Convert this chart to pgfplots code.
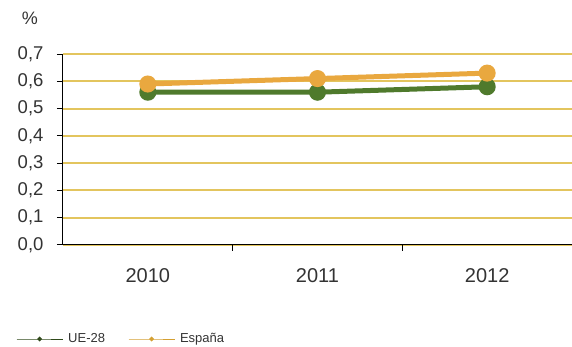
\documentclass[border=0pt]{standalone}
\usepackage{pgfplots}
\pgfplotsset{compat=1.18}
\usepackage{fontspec}
\setmainfont{Liberation Sans}
\definecolor{ue}{HTML}{4F7A2C}
\definecolor{es}{HTML}{E9A83F}
\definecolor{gridc}{HTML}{E3C55E}
\definecolor{lbl}{HTML}{333333}
\begin{document}
\begin{tikzpicture}[x=1pt,y=1pt]
\path[use as bounding box] (-63,-102) rectangle (509,245);
\begin{axis}[
  at={(0,0)}, anchor=south west,
  scale only axis, width=509pt, height=191pt,
  xmin=-0.5, xmax=2.5, ymin=0, ymax=0.7,
  clip=false,
  axis x line*=bottom, axis y line*=left,
  axis line style={black, line width=1pt},
  xtick={0,1,2}, xticklabels={2010,2011,2012},
  minor xtick={0.5,1.5,2.5},
  major x tick style={draw=none},
  minor x tick style={black, line width=1pt},
  minor tick length=6pt,
  ytick={0,0.1,0.2,0.3,0.4,0.5,0.6,0.7},
  y tick style={black, line width=1pt},
  major tick length=6pt,
  tick align=outside,
  ymajorgrids,
  grid style={gridc, line width=2pt},
  /pgf/number format/assume math mode=true,
  yticklabel style={font=\fontsize{18.5}{20}\selectfont, text=lbl, xshift=-10pt,
    /pgf/number format/use comma, /pgf/number format/fixed,
    /pgf/number format/fixed zerofill, /pgf/number format/precision=1},
  xticklabel style={font=\fontsize{20}{22}\selectfont, text=lbl, yshift=-14pt},
  legend style={at={(0,0)}, anchor=west, xshift=-50pt, yshift=-94pt,
    draw=none, fill=none, font=\fontsize{13}{15}\selectfont, text=lbl,
    nodes={inner xsep=5pt}},
  legend columns=2,
  legend cell align=left,
  /tikz/every even column/.append style={column sep=18pt},
  legend image code/.code={\draw[mark repeat=2,mark phase=2,#1] plot coordinates {(0pt,0pt) (23pt,0pt) (46pt,0pt)};},
]
\addlegendimage{color=ue!60!black, line width=1pt, mark=*, mark size=1.8pt}
\addlegendentry{UE-28}
\addlegendimage{color=es!80!olive, line width=1pt, mark=*, mark size=1.8pt}
\addlegendentry{España}
\addplot[ue, line width=5pt, mark=*, mark size=6pt, forget plot] coordinates {(0,0.56) (1,0.56) (2,0.58)};
\addplot[es, line width=5pt, mark=*, mark size=6pt, forget plot] coordinates {(0,0.59) (1,0.61) (2,0.63)};
\node[font=\fontsize{18}{20}\selectfont, text=lbl] at (rel axis cs:0,1) [xshift=-33pt, yshift=36pt] {\%};
\end{axis}
\end{tikzpicture}
\end{document}
